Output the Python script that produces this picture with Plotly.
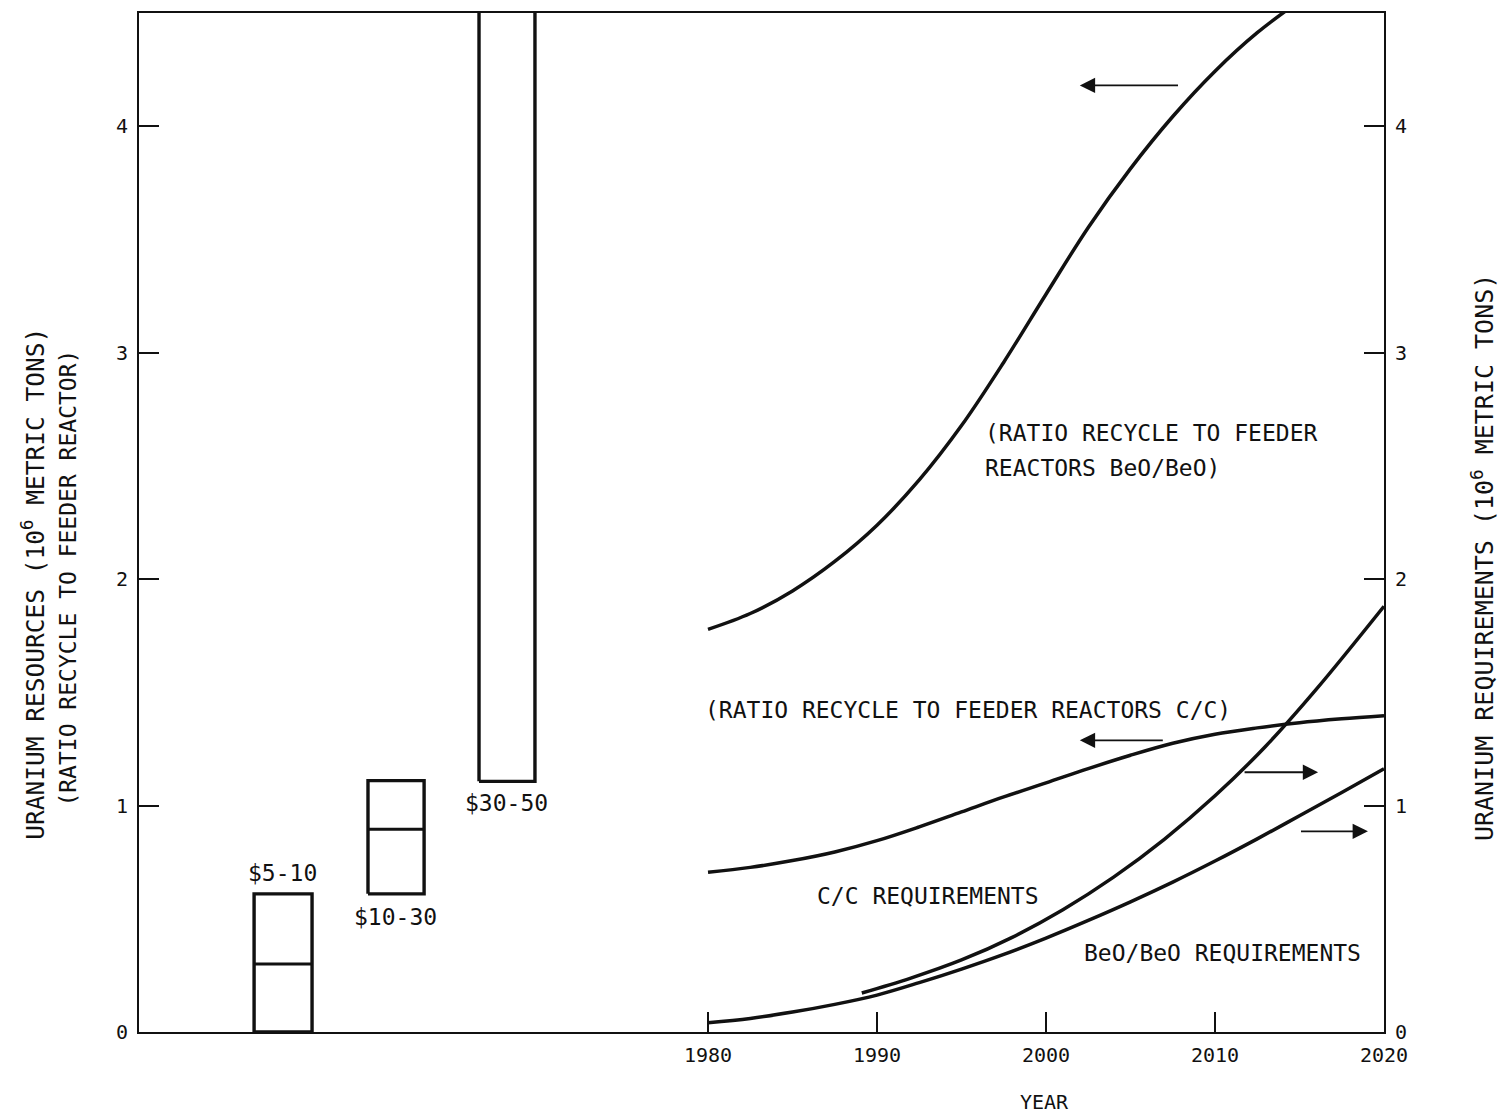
import plotly.graph_objects as go

# ---------------- data ----------------
# Uranium resource boxes (10^6 metric tons)
res_labels = ["$5-10", "$10-30", "$30-50"]
res_low = [0.0, 0.61, 1.107]
res_mid = [0.30, 0.895, None]
res_high = [0.61, 1.11, 4.7]
res_x_left = [1953.14, 1959.88, 1966.45]
res_x_right = [1956.57, 1963.20, 1969.76]

# Ratio recycle to feeder reactors BeO/BeO (left axis)
beo_ratio_years = [1980, 1982.5, 1985, 1987.5, 1990, 1992.5, 1995, 1997.5, 2000,
                   2002.5, 2005, 2007.5, 2010, 2012.5, 2015]
beo_ratio = [1.778, 1.848, 1.948, 2.078, 2.238, 2.438, 2.678, 2.958, 3.258,
             3.553, 3.813, 4.043, 4.243, 4.413, 4.553]

# Ratio recycle to feeder reactors C/C (left axis)
cc_ratio_years = [1980, 1982.5, 1985, 1987.5, 1990, 1992.5, 1995, 1997.5, 2000,
                  2002.5, 2005, 2007.5, 2010, 2012.5, 2015, 2017.5, 2020]
cc_ratio = [0.705, 0.727, 0.757, 0.795, 0.845, 0.906, 0.972, 1.038, 1.100,
            1.163, 1.222, 1.275, 1.315, 1.343, 1.366, 1.383, 1.397]

# C/C requirements (right axis, 10^6 metric tons)
cc_req_years = [1989.1, 1992, 1995, 1998, 2001, 2004, 2007, 2010, 2013, 2016, 2020]
cc_req = [0.172, 0.238, 0.318, 0.418, 0.540, 0.684, 0.851, 1.043, 1.262, 1.514, 1.88]

# BeO/BeO requirements (right axis, 10^6 metric tons)
beo_req_years = [1980, 1982.5, 1985, 1987.5, 1990, 1992.5, 1995, 1997.5, 2000,
                 2002.5, 2005, 2007.5, 2010, 2012.5, 2015, 2017.5, 2020]
beo_req = [0.041, 0.060, 0.088, 0.122, 0.163, 0.218, 0.278, 0.343, 0.415,
           0.493, 0.575, 0.662, 0.755, 0.853, 0.955, 1.058, 1.162]

x_tick_vals = [1980, 1990, 2000, 2010, 2020]
x_tick_text = ["1980", "1990", "2000", "2010", "2020"]
y_tick_vals = [0, 1, 2, 3, 4]
y_tick_text = ["0", "1", "2", "3", "4"]

# ---------------- figure ----------------
FONT = "DejaVu Sans Mono"
INK = "#111111"
fig = go.Figure()

# resource boxes
for i in range(len(res_labels)):
    xl, xr, lo, hi = res_x_left[i], res_x_right[i], res_low[i], res_high[i]
    fig.add_trace(go.Scatter(x=[xl, xl, xr, xr, xl], y=[lo, hi, hi, lo, lo], mode="lines",
                             line=dict(color=INK, width=3.4), hoverinfo="skip", showlegend=False))
    if res_mid[i] is not None:
        fig.add_trace(go.Scatter(x=[xl, xr], y=[res_mid[i], res_mid[i]], mode="lines",
                                 line=dict(color=INK, width=3), hoverinfo="skip", showlegend=False))

curve_line = dict(color=INK, width=3.5, shape="spline", smoothing=1.0)
fig.add_trace(go.Scatter(x=beo_ratio_years, y=beo_ratio, mode="lines", line=curve_line,
                         name="Ratio BeO/BeO", showlegend=False))
fig.add_trace(go.Scatter(x=cc_ratio_years, y=cc_ratio, mode="lines", line=curve_line,
                         name="Ratio C/C", showlegend=False))
fig.add_trace(go.Scatter(x=cc_req_years, y=cc_req, mode="lines", line=curve_line,
                         name="C/C requirements", yaxis="y2", showlegend=False))
fig.add_trace(go.Scatter(x=beo_req_years, y=beo_req, mode="lines", line=curve_line,
                         name="BeO/BeO requirements", yaxis="y2", showlegend=False))

ann = []

def label(x, y, text, xanchor="left", size=23):
    ann.append(dict(x=x, y=y, xref="x", yref="y", text=text, showarrow=False,
                    xanchor=xanchor, yanchor="middle",
                    font=dict(family=FONT, size=size, color=INK)))

label(1996.27, 2.646, "(RATIO RECYCLE TO FEEDER")
label(1996.27, 2.49, "REACTORS BeO/BeO)")
label(1979.7, 1.42, "(RATIO RECYCLE TO FEEDER REACTORS C/C)")
label(1986.33, 0.60, "C/C REQUIREMENTS")
label(2002.13, 0.348, "BeO/BeO REQUIREMENTS")
label(1954.85, 0.70, res_labels[0], "center")
label(1961.5, 0.51, res_labels[1], "center")
label(1968.1, 1.01, res_labels[2], "center")

# arrows (head, tail)
arrows = [((2002.0, 4.18), (2007.9, 4.18)),
          ((2002.0, 1.288), (2007.0, 1.288)),
          ((2016.1, 1.147), (2011.66, 1.147)),
          ((2019.05, 0.886), (2015.0, 0.886))]
for (hx, hy), (tx, ty) in arrows:
    ann.append(dict(x=hx, y=hy, ax=tx, ay=ty, xref="x", yref="y", axref="x", ayref="y",
                    text="", showarrow=True, arrowhead=2, arrowsize=1.7, arrowwidth=1.8,
                    arrowcolor=INK))

# axis titles
ann.append(dict(x=-0.0851, y=0.44, xref="paper", yref="paper", textangle=-90,
                text="URANIUM RESOURCES (10<sup>6</sup> METRIC TONS)", showarrow=False,
                xanchor="center", yanchor="middle",
                font=dict(family=FONT, size=24.5, color=INK)))
ann.append(dict(x=-0.057, y=0.445, xref="paper", yref="paper", textangle=-90,
                text="(RATIO RECYCLE TO FEEDER REACTOR)", showarrow=False,
                xanchor="center", yanchor="middle",
                font=dict(family=FONT, size=23, color=INK)))
ann.append(dict(x=1.0795, y=0.466, xref="paper", yref="paper", textangle=-90,
                text="URANIUM REQUIREMENTS (10<sup>6</sup> METRIC TONS)", showarrow=False,
                xanchor="center", yanchor="middle",
                font=dict(family=FONT, size=25, color=INK)))
ann.append(dict(x=0.7277, y=-0.0686, xref="paper", yref="paper", text="YEAR",
                showarrow=False, xanchor="center", yanchor="middle",
                font=dict(family=FONT, size=20, color=INK)))

tickfont = dict(family=FONT, size=20, color=INK)
common_y = dict(range=[0, 4.5], tickvals=y_tick_vals, ticktext=y_tick_text,
                ticks="inside", ticklen=20, tickwidth=2, tickcolor=INK,
                showline=True, linewidth=2, linecolor=INK,
                showgrid=False, zeroline=False, tickfont=tickfont, ticklabelstandoff=5)
fig.update_layout(
    width=1501, height=1115,
    margin=dict(l=139, r=117, t=11, b=83),
    paper_bgcolor="white", plot_bgcolor="white",
    showlegend=False,
    annotations=ann,
    xaxis=dict(range=[1946.33, 2020], tickvals=x_tick_vals, ticktext=x_tick_text,
               ticks="inside", ticklen=20, tickwidth=2, tickcolor=INK,
               showline=True, linewidth=2, linecolor=INK, mirror=True,
               showgrid=False, zeroline=False, tickfont=tickfont, ticklabelstandoff=4),
    yaxis=common_y,
    yaxis2=dict(common_y, overlaying="y", side="right"),
)

fig.write_html("out.html", config={"displayModeBar": False},
               post_script="document.body.style.margin='0';document.body.style.padding='0';")
